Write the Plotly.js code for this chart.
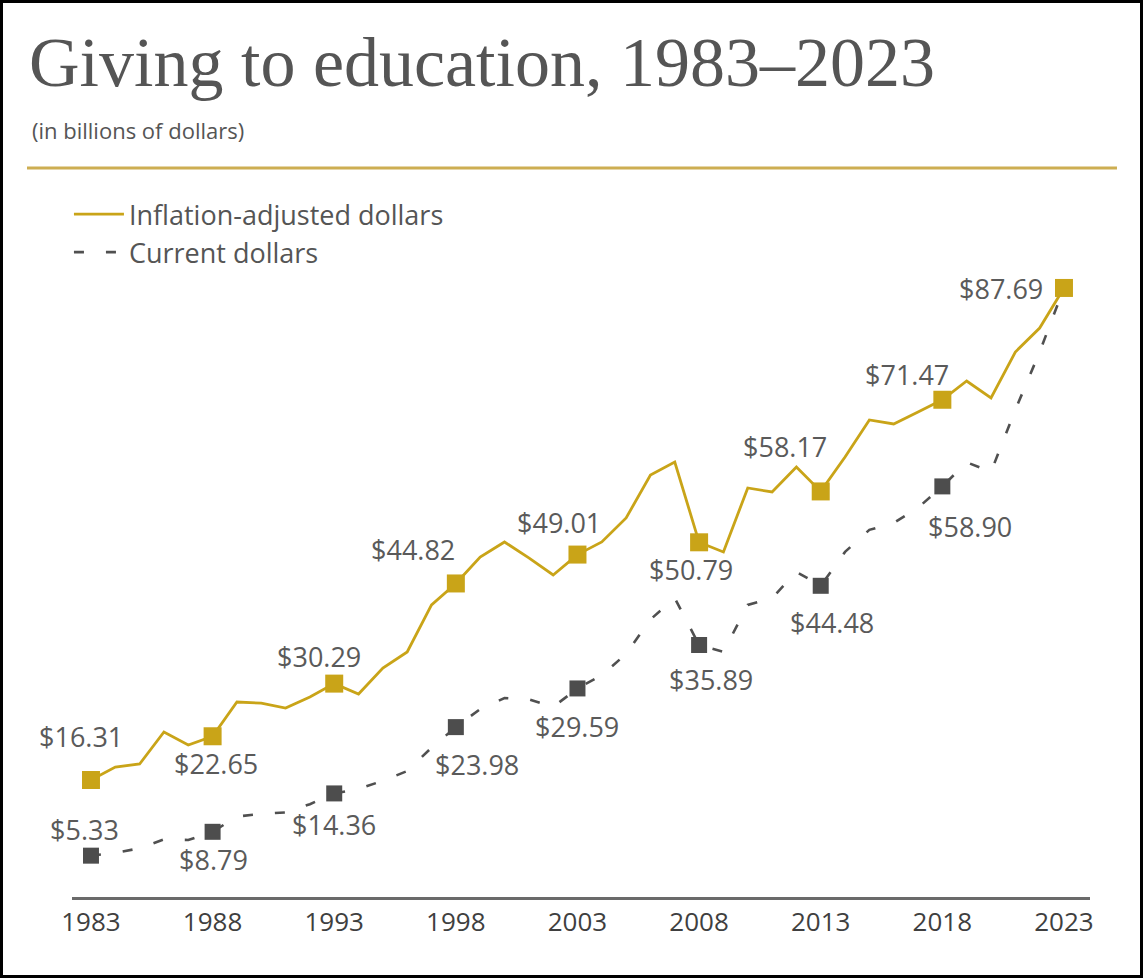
<!DOCTYPE html>
<html>
<head>
<meta charset="utf-8">
<script src="https://cdn.plot.ly/plotly-3.0.1.min.js"></script>
<style>
  html, body { margin: 0; padding: 0; background: #fff; }
  #wrap { position: relative; width: 1143px; height: 978px; }
  #chart { position: absolute; left: 0; top: 0; width: 1143px; height: 978px; }
  #frame { position: absolute; left: 0; top: 0; width: 1143px; height: 978px; box-sizing: border-box; border: 3px solid #000; pointer-events: none; }
</style>
</head>
<body>
<div id="wrap"><div id="chart"></div><div id="frame"></div></div>
<script>
// ---- data (billions of dollars) ----
const years = [1983,1984,1985,1986,1987,1988,1989,1990,1991,1992,
               1993,1994,1995,1996,1997,1998,1999,2000,2001,2002,
               2003,2004,2005,2006,2007,2008,2009,2010,2011,2012,
               2013,2014,2015,2016,2017,2018,2019,2020,2021,2022,2023];
const inflationAdjusted = [16.31,18.19,18.63,23.27,21.39,22.65,27.62,27.45,26.75,28.35,
                           30.29,28.78,32.56,34.88,41.70,44.82,48.66,50.84,48.52,46.05,
                           49.01,50.84,54.32,60.56,62.44,50.79,49.39,58.67,58.09,61.72,
                           58.17,63.17,68.54,67.96,69.70,71.47,74.19,71.73,78.40,81.88,87.69];
const currentDollars = [5.33,5.75,6.40,7.70,7.60,8.79,11.00,11.40,11.60,12.80,
                        14.36,15.00,16.20,17.60,21.00,23.98,26.60,28.20,28.00,26.90,
                        29.59,31.50,34.60,39.60,42.70,35.89,34.90,41.70,42.70,46.50,
                        44.48,49.40,52.60,53.60,55.80,58.90,62.40,61.00,70.00,78.40,87.69];
const labelYears = [1983,1988,1993,1998,2003,2008,2013,2018,2023];
const tickLabels = ['1983','1988','1993','1998','2003','2008','2013','2018','2023'];
const seriesNames = ['Inflation-adjusted dollars','Current dollars'];
const titleText = 'Giving to education, 1983\u20132023';
const subtitleText = '(in billions of dollars)';

// ---- styling ----
const GOLD = '#C9A418';
const GREY = '#4d4d4d';
const LABEL = '#5a5a5a';
const FONT = 'Open Sans, Noto Sans, sans-serif';

function pick(arr, yrs) { return yrs.map(y => arr[years.indexOf(y)]); }
const goldLabelVals = pick(inflationAdjusted, labelYears);
const greyLabelYears = labelYears.slice(0, labelYears.length - 1);
const greyLabelVals = pick(currentDollars, greyLabelYears);

// label offsets in px (xshift, yshift) -- layout only
const goldOffsets = [[-10,43],[3,-27],[-15,27],[-43,34],[-18,32],[-8,-27],[-36,45],[-35,25],[-63,-1]];
const greyOffsets = [[-6,26],[1,-28],[0,-31],[21,-37],[0,-38],[12,-34],[11,-37],[28,-40]];

const traces = [
  { x: years, y: currentDollars, type: 'scatter', mode: 'lines', name: seriesNames[1],
    line: { color: '#505050', width: 2.6, dash: '10px,22px' }, legendrank: 2, hoverinfo: 'skip' },
  { x: greyLabelYears, y: greyLabelVals, type: 'scatter', mode: 'markers', showlegend: false,
    marker: { symbol: 'square', size: 16, color: GREY }, hoverinfo: 'skip' },
  { x: years, y: inflationAdjusted, type: 'scatter', mode: 'lines', name: seriesNames[0],
    line: { color: GOLD, width: 2.8 }, legendrank: 1, hoverinfo: 'skip' },
  { x: labelYears, y: goldLabelVals, type: 'scatter', mode: 'markers', showlegend: false,
    marker: { symbol: 'square', size: 18, color: GOLD }, hoverinfo: 'skip' }
];

const annotations = [];
labelYears.forEach((yr, i) => {
  annotations.push({ x: yr, y: goldLabelVals[i], xref: 'x', yref: 'y', text: '$' + goldLabelVals[i].toFixed(2),
    showarrow: false, xanchor: 'center', yanchor: 'middle', xshift: goldOffsets[i][0], yshift: goldOffsets[i][1],
    font: { family: FONT, size: 27, color: LABEL } });
});
greyLabelYears.forEach((yr, i) => {
  annotations.push({ x: yr, y: greyLabelVals[i], xref: 'x', yref: 'y', text: '$' + greyLabelVals[i].toFixed(2),
    showarrow: false, xanchor: 'center', yanchor: 'middle', xshift: greyOffsets[i][0], yshift: greyOffsets[i][1],
    font: { family: FONT, size: 27, color: LABEL } });
});
annotations.push({ x: -0.041, y: 1.085, xref: 'paper', yref: 'paper', text: subtitleText, showarrow: false,
  xanchor: 'left', yanchor: 'middle', font: { family: FONT, size: 22, color: '#555' } });

const layout = {
  width: 1143, height: 978,
  margin: { l: 72, r: 53, t: 190, b: 81, pad: 0 },
  paper_bgcolor: '#fff', plot_bgcolor: '#fff',
  hovermode: false,
  title: { text: titleText, xref: 'container', yref: 'container', x: 29/1143, xanchor: 'left',
           y: 1 - 37/978, yanchor: 'top',
           font: { family: 'Liberation Serif, Times New Roman, serif', size: 70, color: '#555' } },
  xaxis: { range: [1982.22, 2024.07], showgrid: false, zeroline: false, showline: true,
           linecolor: '#6a6a6a', linewidth: 3, tickvals: labelYears, ticktext: tickLabels, ticks: '',
           tickfont: { family: FONT, size: 26, color: '#3f3f3f' }, fixedrange: true },
  yaxis: { range: [-0.667, 101.9], visible: false, fixedrange: true },
  showlegend: true,
  legend: { x: -0.003, y: 1.0, xanchor: 'left', yanchor: 'top', itemwidth: 50,
            font: { family: FONT, size: 27, color: '#555' }, bgcolor: 'rgba(0,0,0,0)', tracegroupgap: 0 },
  shapes: [
    { type: 'line', xref: 'paper', yref: 'paper', x0: -0.0442, x1: 1.0265, y0: 1.0311, y1: 1.0311,
      line: { color: '#CDAE52', width: 3 } }
  ],
  annotations: annotations
};

Plotly.newPlot('chart', traces, layout, { displayModeBar: false, staticPlot: true });
</script>
</body>
</html>
